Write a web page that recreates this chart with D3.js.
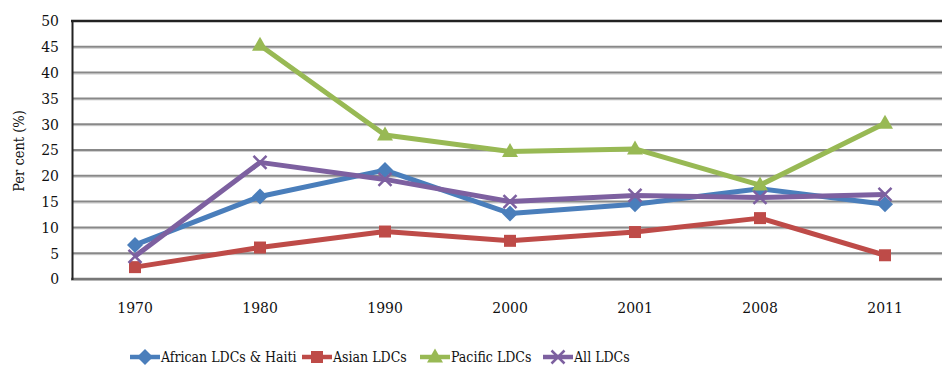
<!DOCTYPE html>
<html><head><meta charset="utf-8">
<script src="https://cdn.jsdelivr.net/npm/d3@7"></script>
<style>body{margin:0;background:#fff}svg{display:block}</style>
</head><body>
<script>
const years = ["1970","1980","1990","2000","2001","2008","2011"];
const african = [6.6, 16.0, 21.1, 12.7, 14.5, 17.5, 14.5];
const asian = [2.3, 6.1, 9.2, 7.4, 9.1, 11.8, 4.6];
const pacific = [null, 45.3, 27.9, 24.7, 25.2, 18.2, 30.2];
const allLdcs = [4.4, 22.6, 19.3, 15.0, 16.2, 15.8, 16.4];
const seriesNames = ["African LDCs & Haiti","Asian LDCs","Pacific LDCs","All LDCs"];
const colors = ["#4A7EBB","#BE4B48","#98B954","#7D60A0"];
const symbols = ["diamond","square","triangle","x"];
const yTicks = [0,5,10,15,20,25,30,35,40,45,50];

const W=942,H=366;
const FONT="'DejaVu Serif Condensed','DejaVu Serif',serif";
const svg=d3.select("body").append("svg").attr("width",W).attr("height",H).attr("font-family",FONT);
const x=d3.scaleBand().domain(years).range([72.5,947.5]);
const y=d3.scaleLinear().domain([0,50]).range([279,21]);

yTicks.filter(t=>t>0&&t<50).forEach(t=>{
  svg.append("line").attr("x1",73).attr("x2",W).attr("y1",y(t)+1.5).attr("y2",y(t)+1.5).attr("stroke","#d0d0d0").attr("stroke-width",1);
  svg.append("line").attr("x1",73).attr("x2",W).attr("y1",y(t)).attr("y2",y(t)).attr("stroke","#888").attr("stroke-width",2);
});
svg.append("line").attr("x1",71).attr("x2",W).attr("y1",y(50)).attr("y2",y(50)).attr("stroke","#222").attr("stroke-width",2.5);
svg.append("line").attr("x1",71).attr("x2",W).attr("y1",y(0)+1.5).attr("y2",y(0)+1.5).attr("stroke","#ccc").attr("stroke-width",1);
svg.append("line").attr("x1",71).attr("x2",W).attr("y1",y(0)).attr("y2",y(0)).attr("stroke","#777").attr("stroke-width",2.5);
svg.append("line").attr("x1",72.5).attr("x2",72.5).attr("y1",y(50)-1).attr("y2",y(0)+1).attr("stroke","#222").attr("stroke-width",2);

const yAxis=d3.axisLeft(y).tickValues(yTicks).tickSize(0).tickPadding(14);
const ga=svg.append("g").attr("transform","translate(73,0)").call(yAxis).attr("font-family",FONT).attr("font-size",15.5);
ga.select(".domain").remove();
ga.selectAll("text").attr("fill","#111");

const xAxis=d3.axisBottom(x).tickSize(0).tickPadding(0);
const gx=svg.append("g").attr("transform","translate(0,302)").call(xAxis).attr("font-family",FONT).attr("font-size",15.5);
gx.select(".domain").remove();
gx.selectAll("text").attr("fill","#111");

svg.append("text").attr("transform","translate(24,151) rotate(-90)").attr("text-anchor","middle").attr("font-size",14.5).attr("fill","#111").text("Per cent (%)");

function marker(g,sym,cx,cy,color){
  if(sym==="diamond"){
    g.append("path").attr("d",`M${cx},${cy-8}L${cx+8},${cy}L${cx},${cy+8}L${cx-8},${cy}Z`).attr("fill",color);
  } else if(sym==="square"){
    g.append("path").attr("d",d3.symbol().type(d3.symbolSquare).size(144)()).attr("transform",`translate(${cx},${cy})`).attr("fill",color);
  } else if(sym==="triangle"){
    g.append("path").attr("d",`M${cx},${cy-8.5}L${cx+8},${cy+5.5}L${cx-8},${cy+5.5}Z`).attr("fill",color);
  } else {
    g.append("path").attr("d",`M${cx-6.5},${cy-6.5}L${cx+6.5},${cy+6.5}M${cx-6.5},${cy+6.5}L${cx+6.5},${cy-6.5}`).attr("stroke",color).attr("stroke-width",2.5).attr("fill","none");
  }
}

const data=[african,asian,pacific,allLdcs];
const line=d3.line().defined(d=>d.v!=null).x(d=>x(d.k)+x.bandwidth()/2).y(d=>y(d.v));
data.forEach((vals,i)=>{
  const pts=years.map((k,j)=>({k,v:vals[j]}));
  const g=svg.append("g");
  g.append("path").datum(pts).attr("d",line).attr("fill","none").attr("stroke",colors[i]).attr("stroke-width",5).attr("stroke-linejoin","round");
  pts.filter(d=>d.v!=null).forEach(d=>marker(g,symbols[i],x(d.k)+x.bandwidth()/2,y(d.v),colors[i]));
});

const legX=[130,302,420,543];
const lg=svg.append("g");
seriesNames.forEach((n,i)=>{
  const lx=legX[i], ly=357;
  lg.append("line").attr("x1",lx).attr("x2",lx+30).attr("y1",ly).attr("y2",ly).attr("stroke",colors[i]).attr("stroke-width",4.5);
  marker(lg,symbols[i],lx+15,ly,colors[i]);
  lg.append("text").attr("x",lx+31).attr("y",ly+5).attr("font-size",14).attr("fill","#111").text(n);
});
</script>
</body></html>
